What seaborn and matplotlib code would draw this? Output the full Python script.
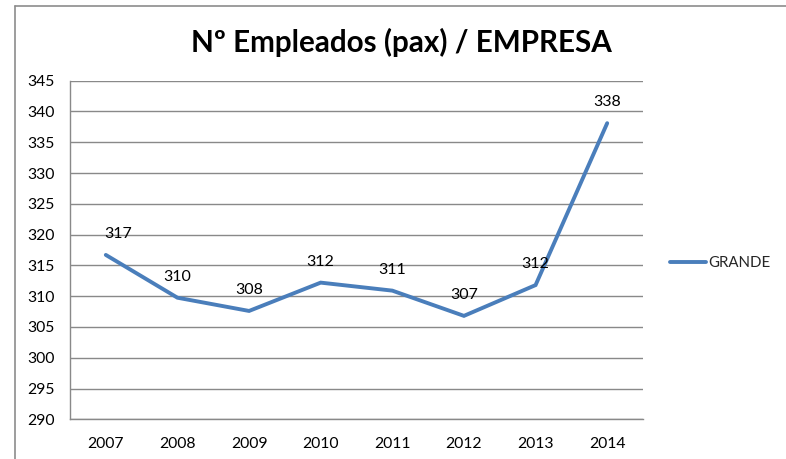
import matplotlib
matplotlib.use("Agg")
import matplotlib.pyplot as plt
import seaborn as sns
import pandas as pd
from matplotlib.lines import Line2D

years = ["2007", "2008", "2009", "2010", "2011", "2012", "2013", "2014"]
grande = [316.7, 309.75, 307.6, 312.2, 310.9, 306.8, 311.8, 338.1]
labels = ["317", "310", "308", "312", "311", "307", "312", "338"]
yticks = [290, 295, 300, 305, 310, 315, 320, 325, 330, 335, 340, 345]
title = "Nº Empleados (pax) / EMPRESA"
series_name = "GRANDE"

sns.set_style("white")
plt.rcParams['font.family'] = ['Lato', 'DejaVu Sans']

df = pd.DataFrame({"pos": list(range(len(years))), "value": grande})

fig = plt.figure(figsize=(7.86, 4.59), dpi=100)
W, H = 786, 459
ax = fig.add_axes([70 / W, 1 - 419.3 / H, (643 - 70) / W, (419.3 - 80.7) / H])

line_color = "#4A7EBB"
grid_color = "#898989"

sns.lineplot(data=df, x="pos", y="value", ax=ax, color=line_color, linewidth=2.8,
             legend=False, solid_joinstyle="miter")

ax.set_xlim(-0.5, len(years) - 0.5)
ax.set_ylim(290, 345)
ax.set_yticks(yticks)
ax.set_yticklabels([str(v) for v in yticks], fontsize=11.3, color="#000000")
ax.set_xticks(range(len(years)))
ax.set_xticklabels(years, fontsize=11.3, color="#000000")
ax.set_xticks([i - 0.5 for i in range(len(years) + 1)], minor=True)
ax.tick_params(axis="x", which="major", length=0, pad=13)
ax.tick_params(axis="x", which="minor", length=6, width=1, color=grid_color, direction="out")
ax.tick_params(axis="y", which="major", length=5, width=1, color=grid_color, direction="out", pad=6)
ax.set_xlabel("")
ax.set_ylabel("")
ax.grid(axis="y", color=grid_color, linewidth=1)
ax.set_axisbelow(True)
for s in ["top", "right"]:
    ax.spines[s].set_visible(False)
for s in ["left", "bottom"]:
    ax.spines[s].set_color(grid_color)
    ax.spines[s].set_linewidth(1)

for i, (v, lab) in enumerate(zip(grande, labels)):
    dx = 12 if i == 0 else 0
    ax.annotate(lab, (i, v), xytext=(dx * 0.72, 15), textcoords="offset points",
                ha="center", va="center", fontsize=11.5, color="#000000")

fig.text(401 / W, 1 - 42 / H, title, ha="center", va="center",
         fontsize=21.3, fontweight="bold", color="#000000")

# legend
handle = Line2D([0], [0], color=line_color, linewidth=2.8)
fig.legend([handle], [series_name], loc="center left",
           bbox_to_anchor=(656 / W, 1 - 263 / H), frameon=False,
           fontsize=10.8, handlelength=2.4, handletextpad=0.2)

# chart border (left and top visible)
fig.add_artist(Line2D([15 / W, 15 / W], [0, 1 - 5.5 / H], transform=fig.transFigure,
                      color="#8c8c8c", linewidth=1.2))
fig.add_artist(Line2D([15 / W, 1], [1 - 5.5 / H, 1 - 5.5 / H], transform=fig.transFigure,
                      color="#8c8c8c", linewidth=1.2))

fig.savefig("out.png", dpi=100, facecolor="white")
